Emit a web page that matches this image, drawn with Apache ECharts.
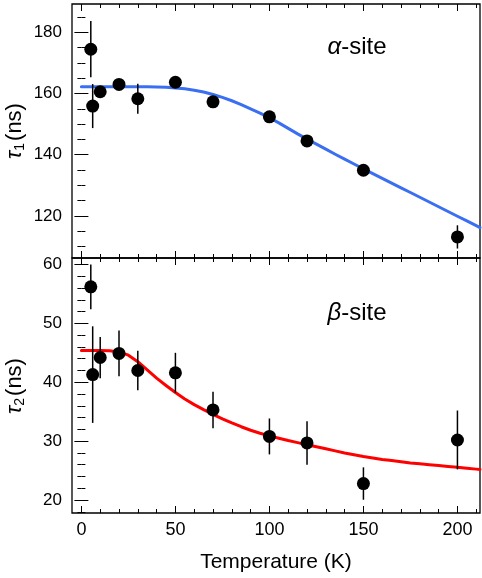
<!DOCTYPE html>
<html><head><meta charset="utf-8">
<script src="https://cdn.jsdelivr.net/npm/echarts@6/dist/echarts.min.js"></script>
<style>html,body{margin:0;padding:0;background:#fff}#c{width:482px;height:578px}</style>
</head><body><div id="c"></div>
<script>
// ---- data ----
const tempAlpha = [5, 6, 10, 20, 30, 50, 70, 100, 120, 150, 200];
const tau1      = [174.5, 155.9, 160.6, 163.0, 158.3, 163.7, 157.3, 152.4, 144.5, 134.9, 113.1];
const tau1Err   = [9.2, 7.2, 1.0, 1.0, 4.9, 1.0, 1.0, 1.0, 1.0, 1.0, 3.8];

const tempBeta  = [5, 6, 10, 20, 30, 50, 70, 100, 120, 150, 200];
const tau2      = [56.2, 41.3, 44.2, 44.9, 42.0, 41.6, 35.3, 30.8, 29.7, 22.8, 30.2];
const tau2Err   = [3.8, 8.2, 3.5, 3.9, 3.35, 3.4, 3.1, 3.05, 3.7, 2.75, 5.0];

const fitT = [0,5,10,15,20,25,30,35,40,45,50,55,60,65,70,75,80,85,90,95,100,105,110,115,120,125,130,135,140,145,150,155,160,165,170,175,180,185,190,195,200,205,210,212];
const fit1 = [162.2,162.2,162.2,162.2,162.2,162.2,162.2,162.2,162.15,162.05,161.85,161.55,161.1,160.5,159.7,158.75,157.65,156.4,155.0,153.6,152.1,150.4,148.6,146.8,145.1,143.45,141.8,140.15,138.55,136.95,135.37,133.82,132.27,130.72,129.17,127.62,126.07,124.52,122.97,121.42,119.87,118.32,116.77,116.15];
const fit2 = [45.4,45.4,45.4,45.35,45.15,44.6,43.5,42.1,40.7,39.45,38.25,37.15,36.2,35.35,34.55,33.8,33.1,32.45,31.85,31.35,30.9,30.5,30.1,29.75,29.4,29.05,28.7,28.35,28.0,27.7,27.4,27.15,26.9,26.7,26.5,26.3,26.15,26.0,25.85,25.7,25.55,25.4,25.25,25.2];

const xMajor = [0, 50, 100, 150, 200];
const xMinor = [0,10,20,30,40,50,60,70,80,90,100,110,120,130,140,150,160,170,180,190,200,210];
const y1Major = [120, 140, 160, 180];
const y1Minor = [110,115,120,125,130,135,140,145,150,155,160,165,170,175,180,185];
const y2Major = [20, 30, 40, 50, 60];
const y2Minor = [18,20,22,24,26,28,30,32,34,36,38,40,42,44,46,48,50,52,54,56,58,60];

// ---- chart ----
const FONT = '"Liberation Sans", Arial, Helvetica, sans-serif';
const X_MIN = -5, X_MAX = 212;
const Y1 = [106.2, 189.3], Y2 = [17.8, 61.1];

function tickAxis(kind, grid, pos, range, values, len, labels, extra) {
  const a = {
    type: 'value', gridIndex: grid, position: pos, min: range[0], max: range[1],
    axisLine: { show: false }, splitLine: { show: false },
    axisTick: { show: true, inside: true, length: len, customValues: values,
                lineStyle: { color: '#000', width: 1 } },
    axisLabel: { show: !!labels, customValues: values, color: '#000',
                 fontFamily: FONT, fontSize: kind === 'x' ? 18 : 17, margin: kind === 'x' ? 8 : 10 }
  };
  return Object.assign(a, extra || {});
}
function xSet(grid, showLabels) {
  const r = [X_MIN, X_MAX];
  return [
    tickAxis('x', grid, 'bottom', r, xMajor, 7, showLabels, showLabels ? {
      name: 'Temperature (K)', nameLocation: 'middle', nameGap: 39,
      nameTextStyle: { color: '#000', fontFamily: FONT, fontSize: 21 } } : {}),
    tickAxis('x', grid, 'bottom', r, xMinor, 4, false),
    tickAxis('x', grid, 'top', r, xMajor, 7, false),
    tickAxis('x', grid, 'top', r, xMinor, 4, false)
  ];
}
function ySet(grid, range, major, minor) {
  return [
    tickAxis('y', grid, 'left', range, major, 7, true),
    tickAxis('y', grid, 'left', range, minor, 4, false),
    tickAxis('y', grid, 'right', range, major, 7, false),
    tickAxis('y', grid, 'right', range, minor, 4, false)
  ];
}
function zip(a, b, c) { return a.map((v, i) => c ? [v, b[i], c[i]] : [v, b[i]]); }
function errRender(params, api) {
  const x = api.value(0), y = api.value(1), e = api.value(2);
  const p1 = api.coord([x, y + e]), p2 = api.coord([x, y - e]);
  return { type: 'line', shape: { x1: p1[0], y1: p1[1], x2: p2[0], y2: p2[1] },
           style: { stroke: '#000', lineWidth: 1.5 } };
}
function title() {
  return { t: { fontFamily: FONT, fontSize: 22, fontStyle: 'italic', fill: '#000' },
           s: { fontFamily: FONT, fontSize: 14, fill: '#000', padding: [10, 2, 0, 0] },
           n: { fontFamily: FONT, fontSize: 22, fill: '#000' } };
}
function site() {
  return { g: { fontFamily: FONT, fontSize: 24, fontStyle: 'italic', fill: '#000' },
           n: { fontFamily: FONT, fontSize: 24, fill: '#000' } };
}

const option = {
  animation: false,
  backgroundColor: '#fff',
  grid: [
    { left: 72, top: 4, width: 408, height: 254, show: true, borderColor: '#000', borderWidth: 1.3, backgroundColor: 'transparent' },
    { left: 72, top: 258, width: 408, height: 255, show: true, borderColor: '#000', borderWidth: 1.3, backgroundColor: 'transparent' }
  ],
  xAxis: [].concat(xSet(0, false), xSet(1, true)),
  yAxis: [].concat(ySet(0, Y1, y1Major, y1Minor), ySet(1, Y2, y2Major, y2Minor)),
  series: [
    { type: 'line', xAxisIndex: 0, yAxisIndex: 0, data: zip(fitT, fit1), showSymbol: false, smooth: false,
      lineStyle: { color: '#3b6ff2', width: 3, join: 'round', cap: 'round' }, z: 2 },
    { type: 'custom', xAxisIndex: 0, yAxisIndex: 0, data: zip(tempAlpha, tau1, tau1Err),
      encode: { x: 0, y: 1 }, renderItem: errRender, z: 3 },
    { type: 'scatter', xAxisIndex: 0, yAxisIndex: 0, data: zip(tempAlpha, tau1), symbolSize: 13,
      itemStyle: { color: '#000', opacity: 1 }, z: 4 },
    { type: 'line', xAxisIndex: 4, yAxisIndex: 4, data: zip(fitT, fit2), showSymbol: false, smooth: false,
      lineStyle: { color: '#ff0000', width: 3, join: 'round', cap: 'round' }, z: 2 },
    { type: 'custom', xAxisIndex: 4, yAxisIndex: 4, data: zip(tempBeta, tau2, tau2Err),
      encode: { x: 0, y: 1 }, renderItem: errRender, z: 3 },
    { type: 'scatter', xAxisIndex: 4, yAxisIndex: 4, data: zip(tempBeta, tau2), symbolSize: 13,
      itemStyle: { color: '#000', opacity: 1 }, z: 4 }
  ],
  graphic: [
    { type: 'text', x: 357, y: 47, z: 10, style: { text: '{g|α}{n|-site}', align: 'center', verticalAlign: 'middle', rich: site() } },
    { type: 'text', x: 357, y: 313, z: 10, style: { text: '{g|β}{n|-site}', align: 'center', verticalAlign: 'middle', rich: site() } },
    { type: 'text', x: 15, y: 131, rotation: Math.PI / 2, z: 10, style: { text: '{t|τ}{s|1}{n|(ns)}', align: 'center', verticalAlign: 'middle', rich: title() } },
    { type: 'text', x: 15, y: 386, rotation: Math.PI / 2, z: 10, style: { text: '{t|τ}{s|2}{n|(ns)}', align: 'center', verticalAlign: 'middle', rich: title() } }
  ]
};
const chart = echarts.init(document.getElementById('c'), null, { renderer: 'canvas' });
chart.setOption(option);
</script>
</body></html>
